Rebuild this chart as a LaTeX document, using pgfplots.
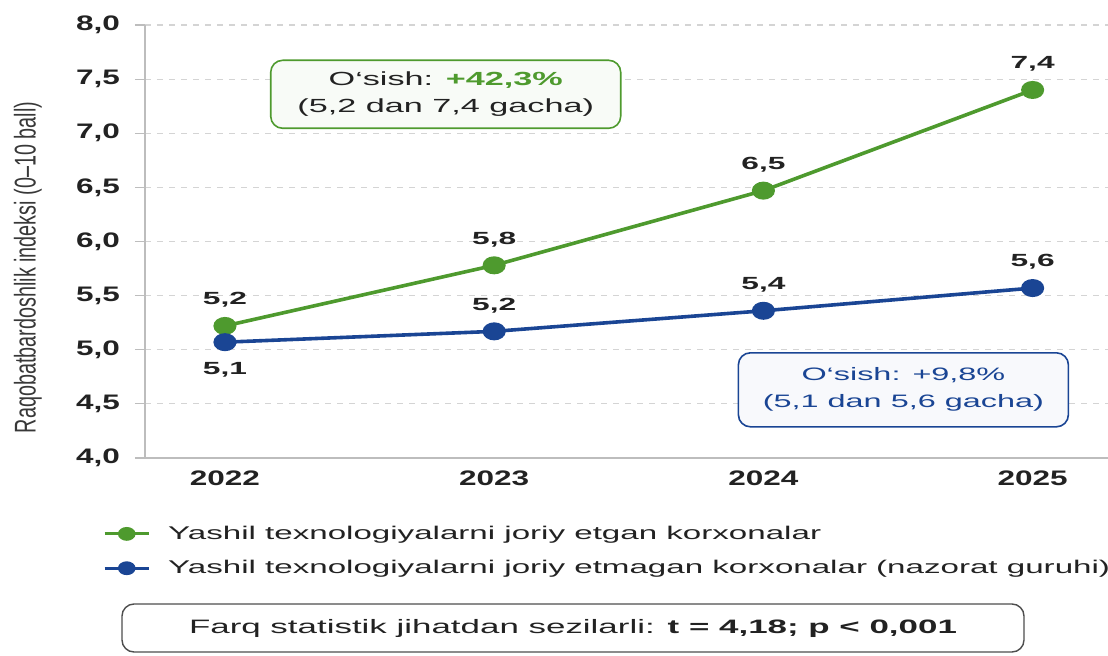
\documentclass[border=0pt]{standalone}
\usepackage{pgfplots}
\pgfplotsset{compat=1.18}
\usepackage{pgfplotstable}
\usepackage{fontspec}
\setmainfont[FakeStretch=1.8]{Liberation Sans}
\newfontfamily\tickfont[FakeStretch=1.5]{Liberation Sans}
\newfontfamily\ylabfont[FakeStretch=0.66]{Liberation Sans}
\definecolor{cgreen}{HTML}{4E9A2E}
\definecolor{cblue}{HTML}{1A4594}
\definecolor{ctext}{HTML}{222222}
\definecolor{cgrid}{HTML}{D4D4D4}
\definecolor{caxis}{HTML}{BDBDBD}

\pgfplotstableread{
x y lab off
0 5.22 {5,2} 13
1 5.78 {5,8} 13
2 6.47 {6,5} 13
3 7.40 {7,4} 13
}\greendata
\pgfplotstableread{
x y lab off
0 5.07 {5,1} -14
1 5.17 {5,2} 13
2 5.36 {5,4} 13
3 5.57 {5,6} 13
}\bluedata

\begin{document}
\begin{tikzpicture}
\useasboundingbox (0,0) rectangle (554pt,327.5pt);
\begin{axis}[
  at={(72.5pt,98.5pt)}, anchor=south west,
  scale only axis, width=481.5pt, height=216.5pt,
  xmin=-0.297, xmax=3.28, ymin=4, ymax=8,
  axis x line*=bottom, axis y line*=left,
  axis line style={caxis, line width=0.8pt, -},
  xtick={0,1,2,3}, xticklabels={2022,2023,2024,2025},
  xtick style={draw=none},
  ytick={4,4.5,...,8},
  ytick style={caxis, line width=0.6pt},
  tick align=outside, major tick length=5pt,
  ymajorgrids, grid style={cgrid, dashed, line width=0.6pt},
  /pgf/number format/.cd, use comma, fixed, fixed zerofill, precision=1, assume math mode=true,
  /pgfplots/.cd,
  ticklabel style={font=\tickfont\fontsize{10.5}{12}\selectfont\bfseries, text=ctext},
  yticklabel style={xshift=-4pt},
  xticklabel style={yshift=2pt},
  ylabel={\ylabfont\fontsize{15}{18}\selectfont Raqobatbardoshlik indeksi (0–10 ball)},
  ylabel style={at={(axis description cs:-0.1215,0.44)}, anchor=center, rotate=0, text=ctext!90},
  legend style={draw=none, fill=none, at={(axis description cs:-0.05,-0.137)}, anchor=north west,
    font=\fontsize{9.2}{11}\selectfont, text=ctext, row sep=5pt, cells={anchor=west}},
  legend cell align=left,
  legend image code/.code={\draw[mark repeat=2, mark phase=2] plot coordinates {(0pt,0pt) (11pt,0pt) (22pt,0pt)};},
  legend image post style={mark size=2.7pt, line width=1.5pt},
  clip=false,
  nodes near coords,
  point meta=explicit symbolic,
  every node near coord/.append style={font=\fontsize{8.8}{10}\selectfont\bfseries, text=ctext, anchor=center, yshift=\myoff pt},
]
\addplot[cgreen, line width=1.8pt, mark=*, mark size=3.6pt, mark options={xscale=1.35, fill=cgreen, draw=cgreen},
  visualization depends on={\thisrow{off}\as\myoff}]
  table[x=x, y=y, meta=lab] {\greendata};
\addlegendentry{\hspace{7pt}Yashil texnologiyalarni joriy etgan korxonalar}
\addplot[cblue, line width=1.8pt, mark=*, mark size=3.6pt, mark options={xscale=1.35, fill=cblue, draw=cblue},
  visualization depends on={\thisrow{off}\as\myoff}]
  table[x=x, y=y, meta=lab] {\bluedata};
\addlegendentry{\hspace{7pt}Yashil texnologiyalarni joriy etmagan korxonalar (nazorat guruhi)}

\node[draw=cgreen, fill=cgreen!4, rounded corners=6pt, line width=0.8pt, align=center,
  minimum width=175pt, minimum height=34pt, font=\fontsize{9.5}{13.5}\selectfont, text=ctext]
  at (axis cs:0.82,7.36) {O‘sish: \textcolor{cgreen}{\textbf{+42,3\%}}\\(5,2 dan 7,4 gacha)};
\node[draw=cblue, fill=cblue!3, rounded corners=6pt, line width=0.8pt, align=center,
  minimum width=165pt, minimum height=37pt, font=\fontsize{9}{13.5}\selectfont, text=cblue]
  at (axis cs:2.52,4.63) {O‘sish: +9,8\%\\(5,1 dan 5,6 gacha)};
\end{axis}
\node[draw=ctext!80, fill=white, rounded corners=6pt, line width=0.7pt,
  minimum width=451pt, minimum height=24pt, font=\fontsize{9.7}{11}\selectfont, text=ctext]
  at (286.5pt,13.5pt) {Farq statistik jihatdan sezilarli: \textbf{t = 4,18; p < 0,001}};
\end{tikzpicture}
\end{document}
